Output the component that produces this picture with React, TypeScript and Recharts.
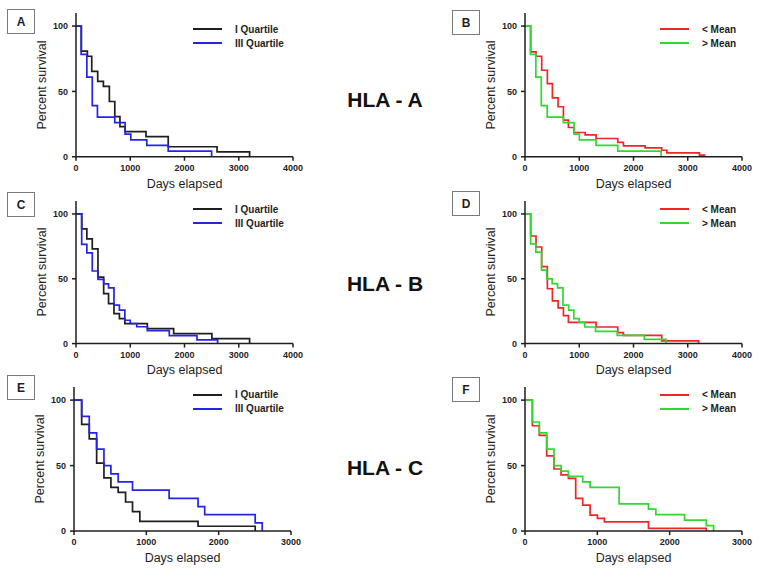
import { LineChart, Line, XAxis, YAxis, Legend } from "recharts";

const FONT = "'Liberation Sans', Arial, sans-serif";
const INK = "#1e1e1e";
const BLUE = "#2424e6";
const RED = "#ef2626";
const GREEN = "#2fd92f";

// HLA-A
const aQ1Days = [0, 100, 210, 290, 400, 505, 615, 715, 810, 905, 1290, 1700, 2600, 3200];
const aQ1Surv = [100, 80.8, 76.9, 65.4, 57.7, 53.8, 42.3, 30.8, 23.1, 19.2, 15.4, 7.7, 3.8, 0];
const aQ3Days = [0, 95, 200, 300, 395, 715, 905, 1010, 1305, 1700, 2500];
const aQ3Surv = [100, 78.3, 60.9, 39.1, 30.4, 26.1, 17.4, 13.0, 8.7, 4.3, 0];
const aLowDays = [0, 105, 203, 308, 412, 505, 610, 708, 800, 905, 1108, 1310, 1710, 1815, 2215, 2520, 2615, 3215, 3310];
const aLowSurv = [100, 80.3, 76.9, 66.2, 56, 45, 38.3, 28, 22.4, 18.6, 16.8, 14, 11, 8.4, 6.9, 5, 3, 1.3, 0];
const aHighDays = [0, 100, 200, 300, 410, 708, 905, 1003, 1310, 1710, 2510];
const aHighSurv = [100, 78.3, 60.9, 39.1, 30.4, 26.1, 17.4, 13, 8.7, 4.3, 0];

// HLA-B
const bQ1Days = [0, 105, 200, 300, 405, 510, 600, 700, 800, 900, 1315, 1800, 2505, 3200];
const bQ1Surv = [100, 88.5, 80.8, 73.1, 51.3, 38.5, 30.8, 23.1, 19.2, 15.4, 11.5, 7.7, 3.8, 0];
const bQ3Days = [0, 105, 200, 300, 405, 510, 600, 700, 800, 900, 1000, 1120, 1315, 1720, 2230, 2610];
const bQ3Surv = [100, 76.5, 70, 56, 49.5, 46, 43, 29.6, 25.8, 18, 15.5, 13, 10, 6.1, 2.8, 0];
const bLowDays = [0, 105, 203, 308, 412, 505, 610, 708, 800, 1310, 1710, 1815, 2520, 3200];
const bLowSurv = [100, 83, 74.5, 59.4, 42.3, 33, 27.5, 21.5, 16.3, 12.8, 8.4, 6.4, 2.1, 0];
const bHighDays = [0, 104, 200, 305, 400, 500, 600, 700, 805, 900, 1000, 1100, 1300, 1700, 2200, 2600];
const bHighSurv = [100, 77, 70.5, 56.6, 50, 46.2, 43, 29.6, 25.8, 19.3, 16.3, 12.8, 9.4, 6.4, 3.2, 0];

// HLA-C
const cQ1Days = [0, 106, 211, 313, 414, 510, 611, 713, 809, 910, 1715, 2505];
const cQ1Surv = [100, 81.5, 70.4, 51.9, 40.7, 33.3, 29.6, 22.2, 14.8, 7.4, 3.7, 0];
const cQ3Days = [0, 106, 211, 313, 414, 510, 611, 809, 1315, 1715, 1807, 2505, 2602];
const cQ3Surv = [100, 87.5, 75, 62.5, 50, 43.75, 37.5, 31.25, 25, 18.75, 12.5, 6.25, 0];
const cLowDays = [0, 102, 198, 300, 401, 498, 600, 701, 798, 900, 1001, 1098, 1707, 2506];
const cLowSurv = [100, 80.4, 73, 57.4, 47.4, 42.9, 40.3, 25, 19.9, 12.2, 9.7, 7.1, 2, 0];
const cHighDays = [0, 102, 198, 300, 401, 498, 600, 798, 900, 1301, 1707, 1809, 2206, 2506, 2607];
const cHighSurv = [100, 83.3, 75, 62.5, 50, 45.8, 41.7, 37.5, 33.3, 20.8, 16.7, 12.5, 8.3, 4.2, 0];

const Y_TICKS = [0, 50, 100];
const X_TICKS_4000 = [0, 1000, 2000, 3000, 4000];
const X_TICKS_3000 = [0, 1000, 2000, 3000];

type Series = { name: string; color: string; days: number[]; surv: number[] };

const toPoints = (s: Series) => s.days.map((t, i) => ({ t, s: s.surv[i] }));

const PLOT_W = 217;
const AXIS_W = 40;
const RIGHT_PAD = 18;
const TOP_PAD = 2;
const X_AXIS_H = 24;

const tickStyle = { fontSize: 9, fontWeight: 700, fill: INK, fontFamily: FONT };

interface PanelProps {
  letter: string;
  tagX: number;
  tagY: number;
  plotLeft: number;
  yTop: number;
  yZero: number;
  xMax: number;
  xTicks: number[];
  legendX: number;
  legendY: number;
  series: Series[];
}

function KMPanel({ letter, tagX, tagY, plotLeft, yTop, yZero, xMax, xTicks, legendX, legendY, series }: PanelProps) {
  const plotH = yZero - yTop;
  const width = AXIS_W + PLOT_W + RIGHT_PAD;
  const height = TOP_PAD + plotH + X_AXIS_H;
  const left = plotLeft - AXIS_W;
  const top = yTop - TOP_PAD;

  const legend = () => (
    <div style={{ fontFamily: FONT, fontSize: 10, fontWeight: 700, color: INK }}>
      {series.map((s) => (
        <div key={s.name} style={{ display: "flex", alignItems: "center", height: 14, whiteSpace: "nowrap" }}>
          <span style={{ display: "inline-block", width: 29, borderTop: `2px solid ${s.color}`, marginRight: 13 }} />
          {s.name}
        </div>
      ))}
    </div>
  );

  return (
    <>
      {/* panel tag */}
      <div
        style={{
          position: "absolute", left: tagX, top: tagY, width: 26, height: 23,
          border: "1px solid #7a7a7a", display: "flex", alignItems: "center", justifyContent: "center",
          fontFamily: FONT, fontSize: 12, fontWeight: 700, color: INK,
        }}
      >
        {letter}
      </div>

      <div style={{ position: "absolute", left, top }}>
        <LineChart width={width} height={height} margin={{ top: TOP_PAD, right: RIGHT_PAD, left: 0, bottom: 0 }}>
          <XAxis
            type="number" dataKey="t" domain={[0, xMax]} ticks={xTicks} height={X_AXIS_H}
            tick={tickStyle} tickSize={4} tickMargin={4} interval={0}
            axisLine={{ stroke: INK, strokeWidth: 1.5 }} tickLine={{ stroke: INK, strokeWidth: 1.5 }}
            allowDataOverflow
          />
          <YAxis
            type="number" domain={[0, 110]} ticks={Y_TICKS} width={AXIS_W}
            tick={tickStyle} tickSize={4} tickMargin={4} interval={0}
            axisLine={{ stroke: INK, strokeWidth: 1.5 }} tickLine={{ stroke: INK, strokeWidth: 1.5 }}
            allowDataOverflow
          />
          <Legend
            layout="horizontal" verticalAlign="middle" align="center"
            content={legend}
            wrapperStyle={{ left: legendX - left, top: legendY - 7 - top, width: "auto", height: "auto" }}
          />
          {series.map((s) => (
            <Line
              key={s.name} data={toPoints(s)} dataKey="s" name={s.name} type="stepAfter"
              stroke={s.color} strokeWidth={1.7} dot={false} activeDot={false} isAnimationActive={false}
            />
          ))}
        </LineChart>
      </div>

      {/* axis titles */}
      <div
        style={{
          position: "absolute", left: plotLeft - 34, top: (yTop + yZero) / 2,
          transform: "translate(-50%, -50%) rotate(-90deg)", whiteSpace: "nowrap",
          fontFamily: FONT, fontSize: 12.5, color: INK, lineHeight: 1,
        }}
      >
        Percent survival
      </div>
      <div
        style={{
          position: "absolute", left: plotLeft + PLOT_W / 2, top: yZero + 27,
          transform: "translate(-50%, -50%)", whiteSpace: "nowrap",
          fontFamily: FONT, fontSize: 12.5, color: INK, lineHeight: 1,
        }}
      >
        Days elapsed
      </div>
    </>
  );
}

function GeneLabel({ text, y }: { text: string; y: number }) {
  return (
    <div
      style={{
        position: "absolute", left: 385, top: y, transform: "translate(-50%, -50%)",
        fontFamily: FONT, fontSize: 21, fontWeight: 700, color: "#111", lineHeight: 1, whiteSpace: "nowrap",
      }}
    >
      {text}
    </div>
  );
}

const quart = (q1d: number[], q1s: number[], q3d: number[], q3s: number[]): Series[] => [
  { name: "I Quartile", color: INK, days: q1d, surv: q1s },
  { name: "III Quartile", color: BLUE, days: q3d, surv: q3s },
];
const mean = (ld: number[], ls: number[], hd: number[], hs: number[]): Series[] => [
  { name: "< Mean", color: RED, days: ld, surv: ls },
  { name: "> Mean", color: GREEN, days: hd, surv: hs },
];

export default function App() {
  return (
    <div style={{ position: "absolute", left: 0, top: 0, width: 771, height: 573, background: "#fff", overflow: "hidden" }}>
      <KMPanel letter="A" tagX={7} tagY={9} plotLeft={76} yTop={12.9} yZero={156.7} xMax={4000} xTicks={X_TICKS_4000}
        legendX={193} legendY={29.3} series={quart(aQ1Days, aQ1Surv, aQ3Days, aQ3Surv)} />
      <KMPanel letter="B" tagX={452} tagY={10} plotLeft={525} yTop={12.9} yZero={156.7} xMax={4000} xTicks={X_TICKS_4000}
        legendX={660} legendY={29.3} series={mean(aLowDays, aLowSurv, aHighDays, aHighSurv)} />
      <KMPanel letter="C" tagX={7} tagY={192} plotLeft={76} yTop={200.7} yZero={343.3} xMax={4000} xTicks={X_TICKS_4000}
        legendX={193} legendY={209.3} series={quart(bQ1Days, bQ1Surv, bQ3Days, bQ3Surv)} />
      <KMPanel letter="D" tagX={452} tagY={191} plotLeft={525} yTop={200.7} yZero={343.3} xMax={4000} xTicks={X_TICKS_4000}
        legendX={660} legendY={209.3} series={mean(bLowDays, bLowSurv, bHighDays, bHighSurv)} />
      <KMPanel letter="E" tagX={7} tagY={375} plotLeft={74} yTop={386.9} yZero={531} xMax={3000} xTicks={X_TICKS_3000}
        legendX={193} legendY={395} series={quart(cQ1Days, cQ1Surv, cQ3Days, cQ3Surv)} />
      <KMPanel letter="F" tagX={452} tagY={377} plotLeft={525} yTop={386.9} yZero={531} xMax={3000} xTicks={X_TICKS_3000}
        legendX={660} legendY={395} series={mean(cLowDays, cLowSurv, cHighDays, cHighSurv)} />

      <GeneLabel text="HLA - A" y={99} />
      <GeneLabel text="HLA - B" y={283} />
      <GeneLabel text="HLA - C" y={467} />
    </div>
  );
}
